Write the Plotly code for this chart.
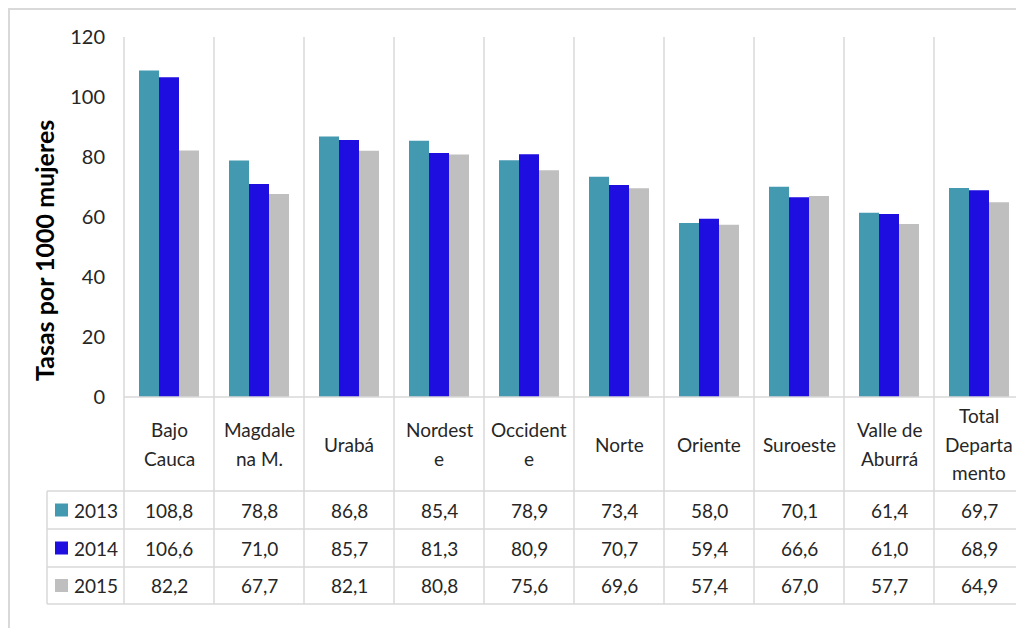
import plotly.graph_objects as go

categories = ["Bajo<br>Cauca", "Magdale<br>na M.", "Urabá", "Nordest<br>e", "Occident<br>e",
              "Norte", "Oriente", "Suroeste", "Valle de<br>Aburrá", "Total<br>Departa<br>mento"]
years = ["2013", "2014", "2015"]
v2013 = [108.8, 78.8, 86.8, 85.4, 78.9, 73.4, 58.0, 70.1, 61.4, 69.7]
v2014 = [106.6, 71.0, 85.7, 81.3, 80.9, 70.7, 59.4, 66.6, 61.0, 68.9]
v2015 = [82.2, 67.7, 82.1, 80.8, 75.6, 69.6, 57.4, 67.0, 57.7, 64.9]
series = [v2013, v2014, v2015]
colors = ["#4399B0", "#1F0EE0", "#BFBFBF"]
y_ticks = [0, 20, 40, 60, 80, 100, 120]
y_title = "Tasas por 1000 mujeres"

W, H = 1016, 628
L, R, T, B = 124, 1016, 37, 397   # plot area in pixels
CAT_W = 90.0
n = len(categories)
xmin = -0.5
xmax = xmin + (R - L) / CAT_W

def px_x(px):
    return (px - L) / (R - L)

def px_y(py):
    return (B - py) / (B - T)

def cat_x(v):
    return (v - xmin) / (xmax - xmin)

FONT = "Lato, Carlito, Calibri, sans-serif"
TXT = "#262626"
GRID = "#D9D9D9"

fig = go.Figure()
x_idx = list(range(n))
for yr, vals, col in zip(years, series, colors):
    fig.add_trace(go.Bar(x=x_idx, y=vals, name=yr, marker=dict(color=col, line=dict(width=0)),
                         hoverinfo="y+name"))

shapes = []
# outer chart border
shapes.append(dict(type="rect", xref="paper", yref="paper", x0=px_x(9), x1=px_x(1040),
                   y0=px_y(650), y1=px_y(9), line=dict(color=GRID, width=2), layer="below"))
# vertical category boundaries (gridlines + table column borders)
for i in range(n + 1):
    xv = cat_x(i - 0.5)
    shapes.append(dict(type="line", xref="paper", yref="paper", x0=xv, x1=xv,
                       y0=px_y(604), y1=1, line=dict(color=GRID, width=1.5)))
# table left border
shapes.append(dict(type="line", xref="paper", yref="paper", x0=px_x(47), x1=px_x(47),
                   y0=px_y(604), y1=px_y(491), line=dict(color=GRID, width=1.5)))
# horizontal lines
shapes.append(dict(type="line", xref="paper", yref="paper", x0=0, x1=1.02,
                   y0=0, y1=0, line=dict(color=GRID, width=1.5)))
row_edges = [491, 529, 567, 604]
for ry in row_edges:
    shapes.append(dict(type="line", xref="paper", yref="paper", x0=px_x(47), x1=1.02,
                       y0=px_y(ry), y1=px_y(ry), line=dict(color=GRID, width=1.5)))

annotations = []
# category header labels
LINE_H = 29
for i, lab in enumerate(categories):
    lines = lab.split("<br>")
    k = len(lines)
    for j, ln in enumerate(lines):
        cy = 444 + (j - (k - 1) / 2) * LINE_H
        annotations.append(dict(x=i, xref="x", y=px_y(cy), yref="paper", text=ln, showarrow=False,
                                xanchor="center", yanchor="middle",
                                font=dict(family=FONT, size=19, color=TXT)))
# table rows
row_centers = [(row_edges[r] + row_edges[r + 1]) / 2 for r in range(3)]
for r, (yr, vals, col) in enumerate(zip(years, series, colors)):
    cy = row_centers[r]
    shapes.append(dict(type="rect", xref="paper", yref="paper", x0=px_x(55), x1=px_x(68),
                       y0=px_y(cy + 6.5), y1=px_y(cy - 6.5), fillcolor=col, line=dict(width=0)))
    annotations.append(dict(x=px_x(72), xref="paper", y=px_y(cy), yref="paper", text=yr,
                            showarrow=False, xanchor="left", yanchor="middle",
                            font=dict(family=FONT, size=19, color=TXT)))
    for i, v in enumerate(vals):
        annotations.append(dict(x=i, xref="x", y=px_y(cy), yref="paper",
                                text=f"{v:.1f}".replace(".", ","), showarrow=False,
                                xanchor="center", yanchor="middle",
                                font=dict(family=FONT, size=19, color=TXT)))
# y axis title
annotations.append(dict(x=px_x(44), xref="paper", y=px_y(251), yref="paper", text="<b>" + y_title + "</b>",
                        textangle=-90, showarrow=False, xanchor="center", yanchor="middle",
                        font=dict(family=FONT, size=25, color="#000000")))

fig.update_layout(
    width=W, height=H,
    margin=dict(l=L, r=W - R, t=T, b=H - B, pad=0, autoexpand=False),
    paper_bgcolor="white", plot_bgcolor="white",
    barmode="group", bargap=1/3, bargroupgap=0,
    showlegend=False,
    shapes=shapes, annotations=annotations,
    xaxis=dict(range=[xmin, xmax], showticklabels=False, showgrid=False, zeroline=False,
               showline=False, ticks="", fixedrange=True),
    yaxis=dict(range=[0, 120], tickvals=y_ticks, showgrid=False, zeroline=False, showline=False,
               ticks="", ticklabelstandoff=18,
               tickfont=dict(family=FONT, size=20, color=TXT)),
)

fig.write_html("out.html", config={"displayModeBar": False},
               post_script="document.body.style.margin='0';document.body.style.overflow='hidden';")
